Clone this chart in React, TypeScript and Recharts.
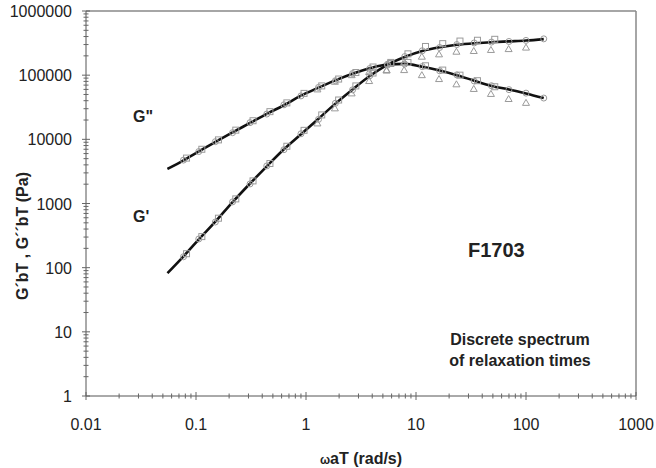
import { ComposedChart, Line, Scatter, XAxis, YAxis, ReferenceLine } from 'recharts';

// axis ticks
const xMajor = [0.01, 0.1, 1, 10, 100, 1000];
const xTickLabels = ['0.01', '0.1', '1', '10', '100', '1000'];
const yMajor = [1, 10, 100, 1000, 10000, 100000, 1000000];
const yTickLabels = ['1', '10', '100', '1000', '10000', '100000', '1000000'];
const minorSteps = [2, 3, 4, 5, 6, 7, 8, 9];

// fitted curves (discrete relaxation spectrum)
const fitFreq = [0.055, 0.077, 0.106, 0.15, 0.215, 0.31, 0.44, 0.63, 0.9, 1.3, 1.85, 2.65, 3.8, 5.5, 7.9, 11.4, 16.4, 23.5, 33.8, 48.5, 70, 100, 145];
const fitGp = [82, 150, 275, 520, 1050, 2050, 3800, 7000, 12000, 21000, 36000, 60000, 97000, 145000, 192000, 238000, 272000, 298000, 315000, 326000, 336000, 346000, 365000];
const fitGpp = [3450, 4700, 6500, 9100, 12800, 18000, 25000, 34000, 48000, 64000, 83000, 105000, 128000, 147000, 150000, 135000, 118000, 100000, 82000, 68000, 60000, 52000, 44000];

// measured points, three sets
const circFreq = [0.077, 0.106, 0.15, 0.215, 0.31, 0.44, 0.63, 0.9, 1.3, 1.85, 2.65, 3.8, 5.5, 7.9, 11.4, 16.4, 23.5, 33.8, 48.5, 70, 100, 145];
const circGp = [148, 280, 515, 1060, 2020, 3850, 6900, 12200, 20500, 36500, 59000, 98000, 143000, 195000, 240000, 270000, 300000, 318000, 328000, 335000, 348000, 368000];
const circGpp = [4750, 6450, 9200, 12700, 18200, 24800, 34500, 47500, 64500, 82000, 106000, 127000, 148000, 149000, 136000, 117000, 101000, 81000, 68500, 59500, 52500, 44000];

const sqFreq = [0.082, 0.113, 0.16, 0.23, 0.33, 0.47, 0.67, 0.96, 1.39, 1.98, 2.84, 4.07, 5.9, 8.45, 12.2, 17.5, 25.1, 36.2, 52];
const sqGp = [165, 305, 590, 1180, 2250, 4200, 7800, 13800, 24000, 41000, 68000, 108000, 158000, 215000, 280000, 310000, 340000, 350000, 362000];
const sqGpp = [5100, 7000, 9800, 13900, 19500, 27000, 37000, 52000, 68000, 87000, 110000, 134000, 152000, 158000, 140000, 120000, 100000, 82000, 66000];

const triFreq = [1.27, 1.83, 2.6, 3.75, 5.4, 7.8, 11.3, 16.2, 23.3, 33.5, 48, 69.5, 100];
const triGp = [17700, 30400, 52000, 81000, 118000, 160000, 194000, 211000, 232000, 238000, 247000, 255000, 269000];
const triGpp = [60000, 79000, 100000, 112000, 120000, 120000, 100000, 87000, 72000, 61000, 51000, 42500, 37000];

const pts = (xs: number[], ys: number[]) => xs.map((x, i) => ({ x, y: ys[i] }));

const xTicks = [...xMajor, ...xMajor.slice(0, -1).flatMap(d => minorSteps.map(s => d * s))];
const yTicks = [...yMajor, ...yMajor.slice(0, -1).flatMap(d => minorSteps.map(s => d * s))];

const FONT = '"Liberation Sans", Arial, Helvetica, sans-serif';
const AXIS = '#555';
const TICK = '#666';
const MARK = '#9a9a9a';

function XTick(props: any) {
  const { x, y, payload } = props;
  const idx = xMajor.indexOf(payload.value);
  const h = idx >= 0 ? 4 : 2.5;
  return (
    <g>
      <line x1={x} x2={x} y1={y - h} y2={y + h} stroke={TICK} />
      {idx >= 0 && (
        <text x={x} y={y + 34} textAnchor="middle" fontSize={16} fontFamily={FONT} fill="#222">
          {xTickLabels[idx]}
        </text>
      )}
    </g>
  );
}

function YTick(props: any) {
  const { x, y, payload } = props;
  const idx = yMajor.indexOf(payload.value);
  const h = idx >= 0 ? 4 : 2.5;
  return (
    <g>
      <line x1={x - h} x2={x + h} y1={y} y2={y} stroke={TICK} />
      {idx >= 0 && (
        <text x={x - 14} y={y + 6} textAnchor="end" fontSize={16} fontFamily={FONT} fill="#222">
          {yTickLabels[idx]}
        </text>
      )}
    </g>
  );
}

const Circ = (p: any) => <circle cx={p.cx} cy={p.cy} r={3} fill="none" stroke={MARK} />;
const Sq = (p: any) => <rect x={p.cx - 3} y={p.cy - 3} width={6} height={6} fill="none" stroke={MARK} />;
const Tri = (p: any) => (
  <path d={`M${p.cx},${p.cy - 3.5}L${p.cx + 3.5},${p.cy + 2.5}L${p.cx - 3.5},${p.cy + 2.5}Z`} fill="none" stroke={MARK} />
);

export default function App() {
  return (
    <div style={{ position: 'absolute', left: 0, top: 0, width: 656, height: 468, background: '#fff' }}>
      <ComposedChart width={656} height={468} margin={{ top: 11, right: 20, bottom: 0, left: 0 }}>
        <XAxis
          dataKey="x"
          type="number"
          scale="log"
          domain={[0.01, 1000]}
          ticks={xTicks}
          interval={0}
          allowDataOverflow
          height={72}
          tickSize={0}
          tickMargin={0}
          tickLine={false}
          tick={<XTick />}
          stroke={AXIS}
        />
        <YAxis
          type="number"
          scale="log"
          domain={[1, 1000000]}
          ticks={yTicks}
          interval={0}
          allowDataOverflow
          width={86}
          tickSize={0}
          tickMargin={0}
          tickLine={false}
          tick={<YTick />}
          stroke={AXIS}
        />
        <ReferenceLine y={1000000} stroke="#888" strokeWidth={1.5} />
        <ReferenceLine x={1000} stroke="#888" strokeWidth={1.5} />
        <Scatter data={pts(triFreq, triGp)} dataKey="y" shape={Tri} isAnimationActive={false} />
        <Scatter data={pts(triFreq, triGpp)} dataKey="y" shape={Tri} isAnimationActive={false} />
        <Scatter data={pts(sqFreq, sqGp)} dataKey="y" shape={Sq} isAnimationActive={false} />
        <Scatter data={pts(sqFreq, sqGpp)} dataKey="y" shape={Sq} isAnimationActive={false} />
        <Scatter data={pts(circFreq, circGp)} dataKey="y" shape={Circ} isAnimationActive={false} />
        <Scatter data={pts(circFreq, circGpp)} dataKey="y" shape={Circ} isAnimationActive={false} />
        <Line data={pts(fitFreq, fitGp)} dataKey="y" type="monotone" stroke="#111" strokeWidth={2.6} dot={false} isAnimationActive={false} />
        <Line data={pts(fitFreq, fitGpp)} dataKey="y" type="monotone" stroke="#111" strokeWidth={2.6} dot={false} isAnimationActive={false} />
      </ComposedChart>
      <svg width={656} height={468} style={{ position: 'absolute', left: 0, top: 0, pointerEvents: 'none' }}>
        <g fontFamily={FONT} fontWeight="bold" fill="#222">
          <text x={133} y={122} fontSize={16}>G"</text>
          <text x={133} y={222} fontSize={16}>G'</text>
          <text x={468} y={257} fontSize={20}>F1703</text>
          <text x={520} y={345} fontSize={16} textAnchor="middle">Discrete spectrum</text>
          <text x={520} y={366} fontSize={16} textAnchor="middle">of relaxation times</text>
          <text x={361} y={464} fontSize={16} textAnchor="middle">
            <tspan fontSize={12}>ω</tspan>aT (rad/s)
          </text>
          <text transform="translate(28,236) rotate(-90)" fontSize={16} textAnchor="middle">
            G´bT , G´´bT (Pa)
          </text>
        </g>
      </svg>
    </div>
  );
}
